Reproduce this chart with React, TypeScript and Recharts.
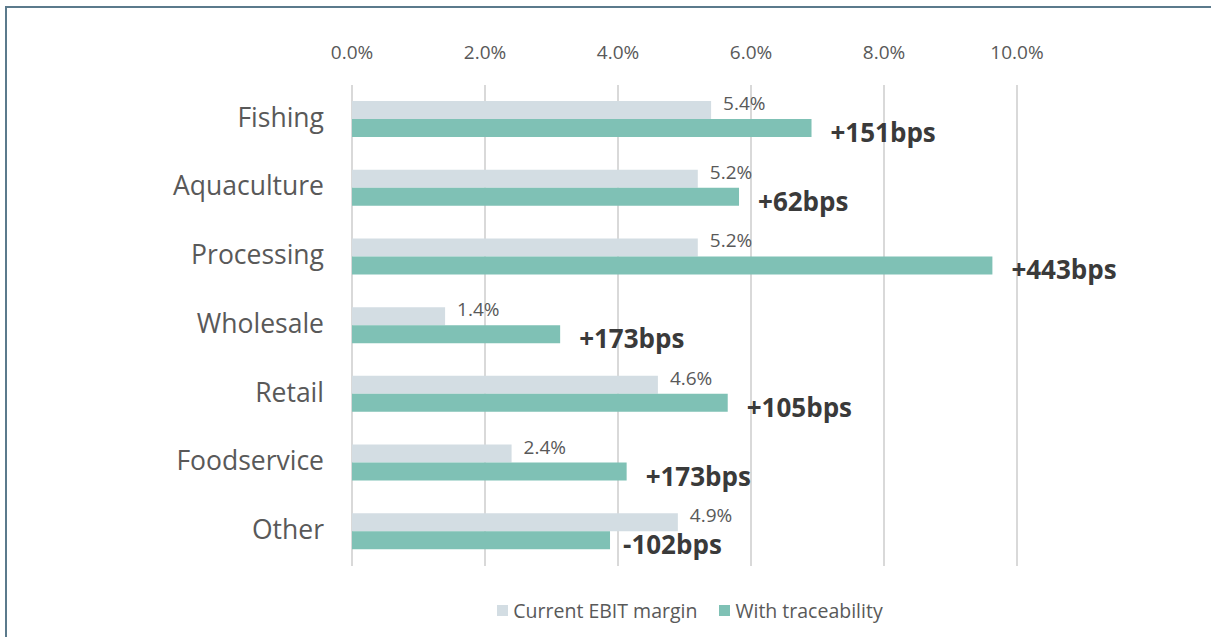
import React from "react";
import {
  BarChart,
  Bar,
  XAxis,
  YAxis,
  CartesianGrid,
  Legend,
  LabelList,
} from "recharts";

const categories = [
  "Fishing",
  "Aquaculture",
  "Processing",
  "Wholesale",
  "Retail",
  "Foodservice",
  "Other",
];
const currentMargin = [5.4, 5.2, 5.2, 1.4, 4.6, 2.4, 4.9];
const withTraceability = [6.91, 5.82, 9.63, 3.13, 5.65, 4.13, 3.88];
const bpsLabels = [
  "+151bps",
  "+62bps",
  "+443bps",
  "+173bps",
  "+105bps",
  "+173bps",
  "-102bps",
];
const xTicks = [0, 2, 4, 6, 8, 10];

const data = categories.map((c, i) => ({
  name: c,
  current: currentMargin[i],
  trace: withTraceability[i],
  bps: bpsLabels[i],
}));

const FONT = "'Open Sans', 'Noto Sans', sans-serif";
const CURRENT_COLOR = "#d3dde3";
const TRACE_COLOR = "#7fc1b5";
const TEXT_COLOR = "#595959";

const CurrentLabel = (props: any) => {
  const { x, y, width, height, value } = props;
  return (
    <text
      x={Number(x) + Number(width) + 12}
      y={Number(y) + Number(height) / 2 - 7}
      dominantBaseline="central"
      fontSize={19}
      fill={TEXT_COLOR}
      fontFamily={FONT}
    >
      {Number(value).toFixed(1)}%
    </text>
  );
};

const BpsLabel = (props: any) => {
  const { x, y, width, height, value } = props;
  const s = String(value);
  const shift = s.startsWith("-") ? 13 : 19;
  return (
    <text
      x={Number(x) + Number(width) + shift}
      y={Number(y) + Number(height) / 2 + 4}
      dominantBaseline="central"
      fontSize={26}
      fontWeight={700}
      fill="#3a3a3a"
      fontFamily={FONT}
    >
      {s}
    </text>
  );
};

const CustomLegend = () => (
  <div
    style={{
      display: "flex",
      justifyContent: "center",
      alignItems: "center",
      fontFamily: FONT,
      fontSize: 19.5,
      color: TEXT_COLOR,
    }}
  >
    <div style={{ display: "flex", alignItems: "center", marginRight: 22 }}>
      <span
        style={{
          display: "inline-block",
          width: 11,
          height: 11,
          background: CURRENT_COLOR,
          marginRight: 5,
        }}
      />
      <span>Current EBIT margin</span>
    </div>
    <div style={{ display: "flex", alignItems: "center" }}>
      <span
        style={{
          display: "inline-block",
          width: 11,
          height: 11,
          background: TRACE_COLOR,
          marginRight: 5,
        }}
      />
      <span>With traceability</span>
    </div>
  </div>
);

export default function App() {
  return (
    <div
      style={{
        position: "absolute",
        left: 0,
        top: 0,
        width: 1211,
        height: 637,
        background: "#ffffff",
        fontFamily: FONT,
        overflow: "hidden",
      }}
    >
      <div
        style={{
          position: "absolute",
          left: 5,
          top: 6,
          width: 1206,
          height: 631,
          borderLeft: "2px solid #5b7a8c",
          borderTop: "2px solid #5b7a8c",
          boxSizing: "border-box",
        }}
      />
      <BarChart
        width={1211}
        height={637}
        data={data}
        layout="vertical"
        margin={{ top: 55, right: 194, bottom: 41, left: 12 }}
        barGap={0}
      >
        <CartesianGrid
          horizontal={false}
          vertical={true}
          stroke="#d9d9d9"
          strokeWidth={2}
        />
        <XAxis
          type="number"
          orientation="top"
          domain={[0, 10]}
          ticks={xTicks}
          tickFormatter={(v: number) => v.toFixed(1) + "%"}
          axisLine={false}
          tickLine={false}
          tickSize={0}
          tickMargin={26}
          height={30}
          tick={{ fill: TEXT_COLOR, fontSize: 19 }}
        />
        <YAxis
          type="category"
          dataKey="name"
          axisLine={false}
          tickLine={false}
          tickSize={0}
          tickMargin={28}
          width={340}
          tick={{ fill: TEXT_COLOR, fontSize: 26.5, dy: -2 }}
        />
        <Legend
          verticalAlign="bottom"
          height={30}
          content={<CustomLegend />}
          wrapperStyle={{ left: 352, width: 676, top: 597 }}
        />
        <Bar
          dataKey="current"
          name="Current EBIT margin"
          fill={CURRENT_COLOR}
          barSize={18}
          isAnimationActive={false}
        >
          <LabelList dataKey="current" content={<CurrentLabel />} />
        </Bar>
        <Bar
          dataKey="trace"
          name="With traceability"
          fill={TRACE_COLOR}
          barSize={18}
          isAnimationActive={false}
        >
          <LabelList dataKey="bps" content={<BpsLabel />} />
        </Bar>
      </BarChart>
    </div>
  );
}
